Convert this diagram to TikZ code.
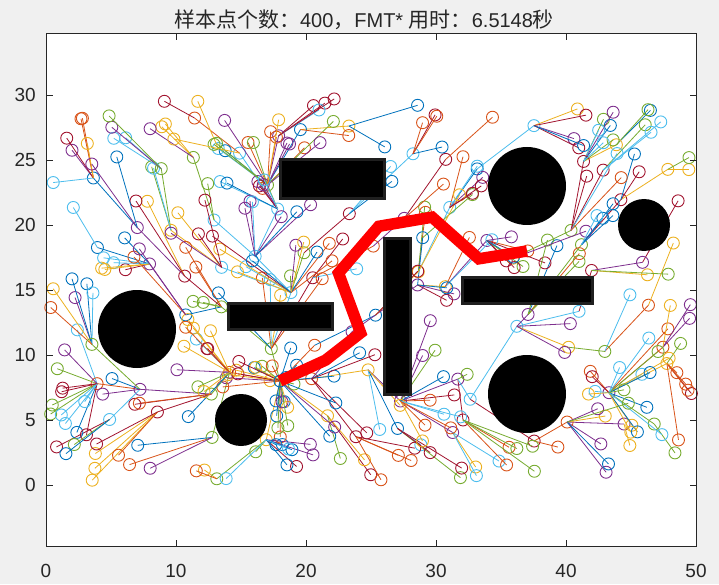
\documentclass[tikz,border=0pt]{standalone}
\usepackage{fontspec}
\setmainfont{Liberation Sans}
\newfontfamily\cjk{Noto Sans CJK SC}[Scale=1.05]
\usetikzlibrary{calc}

\definecolor{mlc0}{rgb}{0,0.447,0.741}
\definecolor{mlc1}{rgb}{0.85,0.325,0.098}
\definecolor{mlc2}{rgb}{0.929,0.694,0.125}
\definecolor{mlc3}{rgb}{0.494,0.184,0.556}
\definecolor{mlc4}{rgb}{0.466,0.674,0.188}
\definecolor{mlc5}{rgb}{0.301,0.745,0.933}
\definecolor{mlc6}{rgb}{0.635,0.078,0.184}
\definecolor{figbg}{RGB}{240,240,240}
\definecolor{axline}{RGB}{38,38,38}

\newcounter{npts}
\def\cellsz{3.2}
\def\emptyid{}
\newcommand\trycell[2]{%
  \ifx\parentid\emptyid
    \ifcsname hub-\number#1-\number#2\endcsname
      \edef\parentid{\csname hub-\number#1-\number#2\endcsname}%
    \fi
  \fi}

\begin{document}
\begin{tikzpicture}[x=13pt, y=13pt, line join=miter]
	\tikzstyle{vertex} = [line width=0.9pt]
	\tikzstyle{branch} = [line width=0.8pt]
	\tikzstyle{block}  = [fill=black, draw=black!88, line width=3pt]
	\tikzstyle{route}  = [draw=red, line width=11.5pt, line join=miter]
	\tikzstyle{ticklabel} = [font=\fontsize{19}{22}\selectfont, text=axline, inner sep=0pt]
	\def\ylo{-4.73}
	\def\yhi{34.73}
	
	% figure and axes background
	\path[use as bounding box, fill=figbg] (-46pt,-99pt) rectangle (673pt,485pt);
	\fill[white] (0,\ylo) rectangle (50,\yhi);
	
	% start point and samples
	\pgfmathtruncatemacro\startcx{18/\cellsz}
	\pgfmathtruncatemacro\startcy{8/\cellsz}
	\expandafter\xdef\csname px0\endcsname{18}
	\expandafter\xdef\csname py0\endcsname{8}
	\expandafter\xdef\csname hub-\startcx-\startcy\endcsname{0}
	\pgfmathsetseed{2718}
	\foreach \k in {1,...,560}{
		\ifnum\value{npts}<400
		\pgfmathsetmacro\rx{0.3+49.4*rnd}
		\pgfmathsetmacro\ry{0.3+29.4*rnd}
		\pgfmathtruncatemacro\hit{(\rx>17.6)*(\rx<26.4)*(\ry>21.6)*(\ry<25.4)
			+ (\rx>25.6)*(\rx<28.4)*(\ry>6.6)*(\ry<19.4)
			+ (\rx>13.6)*(\rx<22.4)*(\ry>11.6)*(\ry<14.4)
			+ (\rx>31.6)*(\rx<42.4)*(\ry>13.6)*(\ry<16.4)
			+ (((\rx-7)^2+(\ry-12)^2)<11.6)
			+ (((\rx-15)^2+(\ry-5)^2)<5.8)
			+ (((\rx-37)^2+(\ry-23)^2)<11.6)
			+ (((\rx-46)^2+(\ry-20)^2)<5.8)
			+ (((\rx-37)^2+(\ry-7)^2)<11.6)}
		\ifnum\hit=0
			\stepcounter{npts}
			\pgfmathtruncatemacro\cx{\rx/\cellsz}
			\pgfmathtruncatemacro\cy{\ry/\cellsz}
			\expandafter\xdef\csname px\thenpts\endcsname{\rx}
			\expandafter\xdef\csname py\thenpts\endcsname{\ry}
			\expandafter\xdef\csname cx\thenpts\endcsname{\cx}
			\expandafter\xdef\csname cy\thenpts\endcsname{\cy}
			\ifcsname hub-\cx-\cy\endcsname\else
				\expandafter\xdef\csname hub-\cx-\cy\endcsname{\thenpts}
			\fi
		\fi
		\fi
	}
	\foreach \n in {0,...,\thenpts}{
		\edef\tx{\csname px\n\endcsname}
		\edef\ty{\csname py\n\endcsname}
		\coordinate (s\n) at (\tx,\ty);
	}
	
	% tree
	\foreach \n in {1,...,\thenpts}{
		\edef\cx{\csname cx\n\endcsname}
		\edef\cy{\csname cy\n\endcsname}
		\edef\ownhub{\csname hub-\cx-\cy\endcsname}
		\ifnum\cx<\startcx \def\dx{1}\else\ifnum\cx>\startcx \def\dx{-1}\else\def\dx{0}\fi\fi
		\ifnum\cy<\startcy \def\dy{1}\else\ifnum\cy>\startcy \def\dy{-1}\else\def\dy{0}\fi\fi
		\def\parentid{}
		\ifnum\dx=0 \ifnum\dy=0 \def\parentid{0}\fi\fi
		\ifnum\dx=0 \else\ifnum\dy=0 \else\trycell{\numexpr\cx+\dx\relax}{\numexpr\cy+\dy\relax}\fi\fi
		\ifnum\dx=0 \else\trycell{\numexpr\cx+\dx\relax}{\cy}\fi
		\ifnum\dy=0 \else\trycell{\cx}{\numexpr\cy+\dy\relax}\fi
		\ifnum\ownhub=\n \else\trycell{\cx}{\cy}\fi
		\pgfmathtruncatemacro\ci{mod(\n,7)}
		\ifx\parentid\emptyid\else
			\draw[branch, draw=mlc\ci] (s\n) -- (s\parentid);
		\fi
		\draw[vertex, draw=mlc\ci] (s\n) circle[radius=6pt];
	}
	\draw[vertex, draw=mlc0] (s0) circle[radius=6pt];
	
	% obstacles
	\foreach \xa/\ya/\xb/\yb in {18/22/26/25, 26/7/28/19, 14/12/22/14, 32/14/42/16}
		\draw[block] (\xa,\ya) rectangle (\xb,\yb);
	\foreach \ox/\oy/\orad in {7/12/3, 15/5/2, 37/23/3, 46/20/2, 37/7/3}
		\fill[black] (\ox,\oy) circle[radius=\orad];
	
	% path found
	\foreach \i/\wx/\wy in {1/21.5/9.6, 2/24.2/11.7, 3/22.5/16.3, 4/25.6/19.9, 5/29.7/20.6, 6/33.3/17.4, 7/37/18}
		\coordinate (w\i) at (\wx,\wy);
	\draw[route] (s0) -- (w1) -- (w2) -- (w3) -- (w4) -- (w5) -- (w6) -- (w7);
	
	% axes box, ticks and labels
	\draw[axline, line width=1pt] (0,\ylo) rectangle (50,\yhi);
	\foreach \t in {0,10,...,50}{
		\draw[axline, line width=0.8pt] (\t,\ylo) -- ++(0,6.5pt) (\t,\yhi) -- ++(0,-6.5pt);
		\node[ticklabel, anchor=base, yshift=-92pt] at (\t,0) {\t};
	}
	\foreach \t in {0,5,...,30}{
		\draw[axline, line width=0.8pt] (0,\t) -- ++(6.5pt,0) (50,\t) -- ++(-6.5pt,0);
		\node[ticklabel, anchor=base east, xshift=-10pt, yshift=-6.8pt] at (0,\t) {\t};
	}
	\node[anchor=base, font=\fontsize{20}{24}\selectfont, text=black!85, inner sep=0pt] (title) at (318pt,457pt)
		{{\cjk 样本点个数：}400{\cjk ，}FMT* {\cjk 用时：}6.5148{\cjk 秒}};
\end{tikzpicture}
\end{document}
